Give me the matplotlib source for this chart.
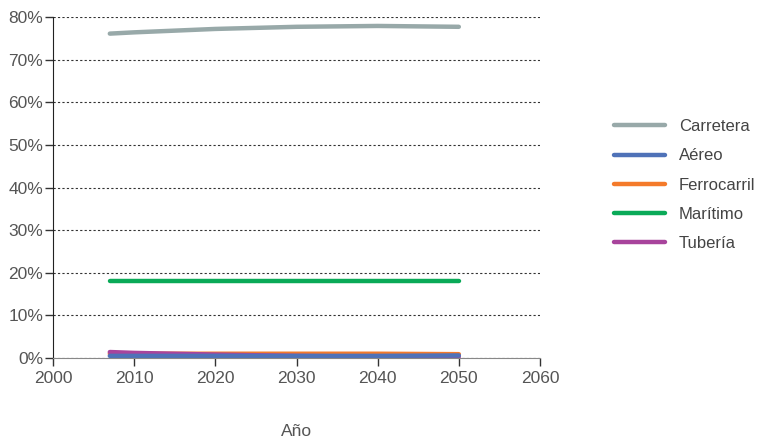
import matplotlib
matplotlib.use("Agg")
import matplotlib.pyplot as plt

years = [2007, 2010, 2020, 2030, 2040, 2050]
carretera = [76.1, 76.4, 77.2, 77.7, 77.9, 77.7]
aereo = [0.5, 0.5, 0.5, 0.5, 0.5, 0.6]
ferrocarril = [1.0, 1.0, 1.0, 1.0, 1.0, 0.9]
maritimo = [18.1, 18.1, 18.1, 18.1, 18.1, 18.1]
tuberia = [1.4, 1.2, 0.8, 0.5, 0.3, 0.3]

series = [("Carretera", carretera, "#98a9a9"),
          ("Aéreo", aereo, "#4f72b8"),
          ("Ferrocarril", ferrocarril, "#f47a2a"),
          ("Marítimo", maritimo, "#0aaa58"),
          ("Tubería", tuberia, "#a8449c")]

plt.rcParams['font.family'] = ['Liberation Sans', 'DejaVu Sans']
fig = plt.figure(figsize=(7.59, 4.43), dpi=100)
ax = fig.add_axes([53/759, 85/443, 487/759, 341/443])

order = ["Carretera", "Marítimo", "Ferrocarril", "Tubería", "Aéreo"]
handles = {}
for name, vals, col in series:
    z = 3 + order.index(name)
    h, = ax.plot(years, vals, color=col, lw=3.2, solid_capstyle='round', label=name, zorder=z)
    handles[name] = h

ax.set_xlim(2000, 2060)
ax.set_ylim(0, 80)
ax.set_xticks(range(2000, 2061, 10))
ax.set_yticks(range(0, 81, 10))
ax.set_yticklabels([f"{v}%" for v in range(0, 81, 10)])
ax.grid(axis='y', color='#333333', linestyle=(0, (2, 2)), lw=0.8)
ax.set_axisbelow(True)
for s in ['top', 'right']:
    ax.spines[s].set_visible(False)
ax.spines['left'].set_color('#222222')
ax.spines['bottom'].set_color('#888888')
ax.tick_params(axis='both', labelsize=12.5, labelcolor='#555555', length=6, width=1, color='#333333')
ax.tick_params(axis='y', pad=1)
fig.text(297/759, 1 - 432/443, "Año", fontsize=12.5, color='#555555', ha='center', va='center')

leg = fig.legend([handles[n] for n, _, _ in series], [n for n, _, _ in series],
                 loc='center left', bbox_to_anchor=(607/759, 1 - 185/443), frameon=False,
                 fontsize=12, handlelength=3.1, labelspacing=0.85, handletextpad=0.8,
                 borderaxespad=0.0)
for t in leg.get_texts():
    t.set_color('#444444')

fig.savefig("out.png", dpi=100)
